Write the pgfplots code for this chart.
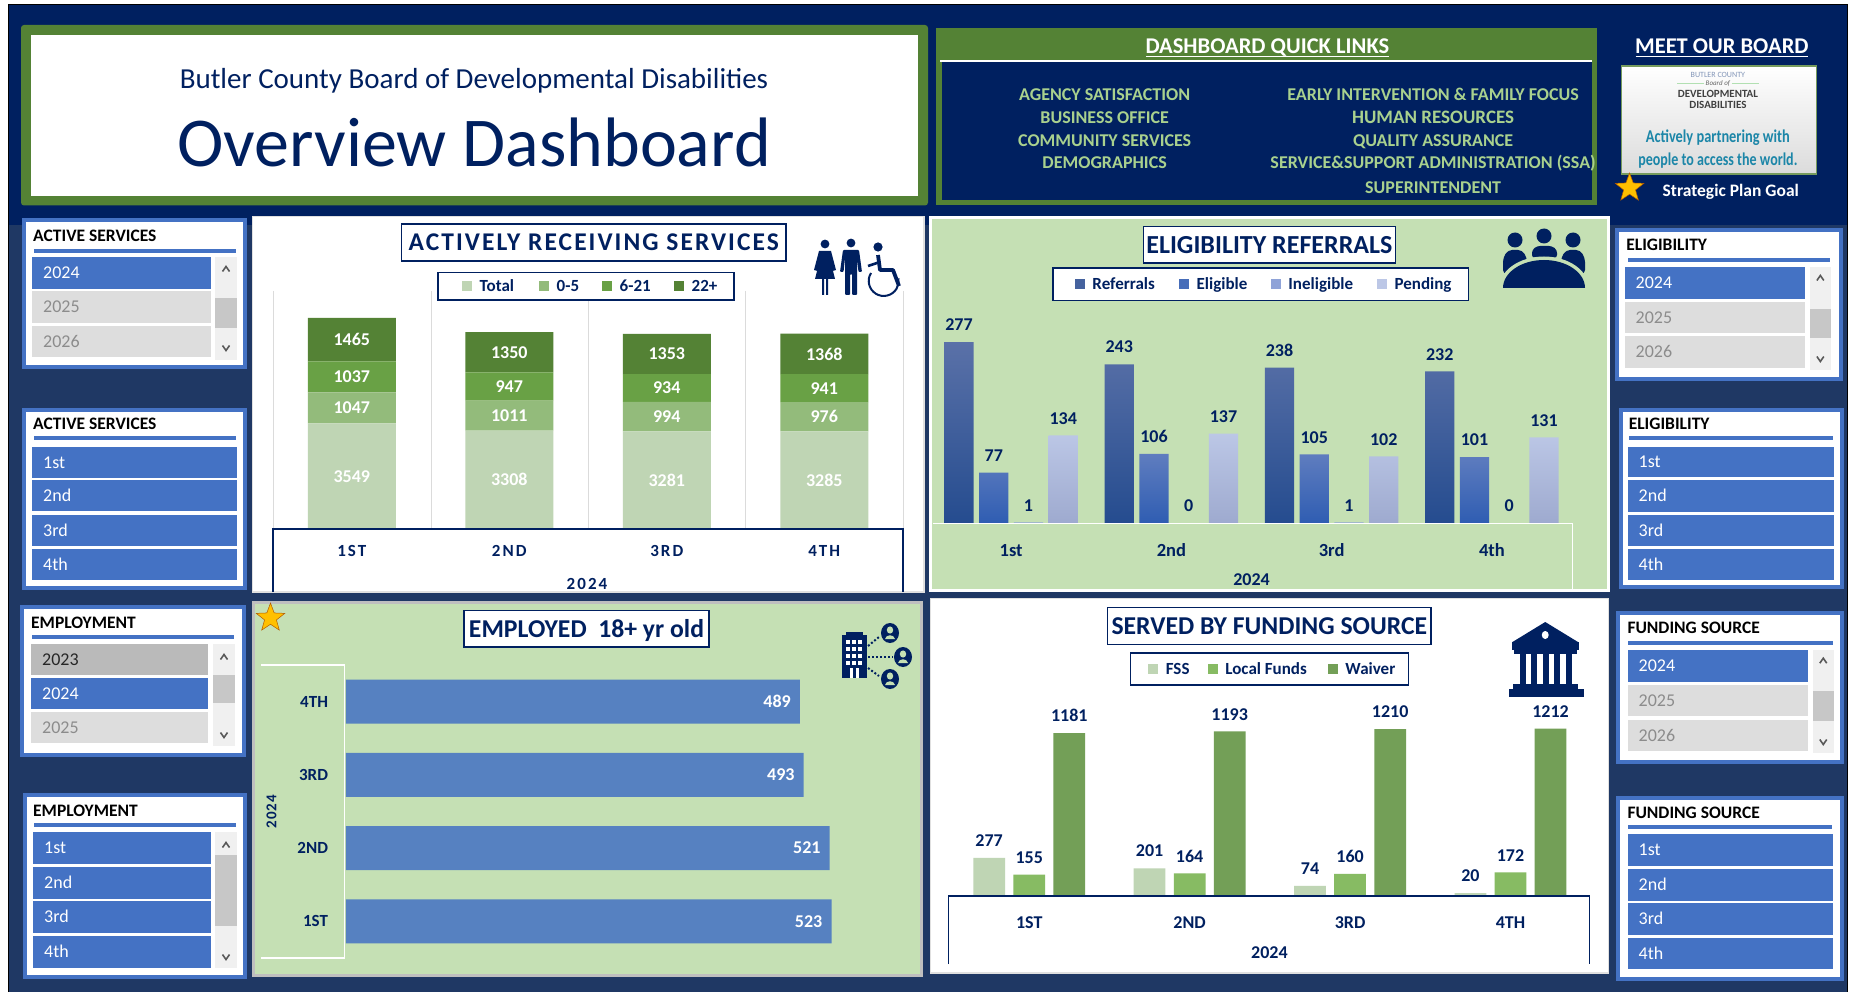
\documentclass[border=0pt]{standalone}
\usepackage{fontspec}
\setmainfont{Carlito}
\usepackage{pgfplots}
\usepackage{pgfplotstable}
\pgfplotsset{compat=1.18}
\usetikzlibrary{shapes.geometric}
\definecolor{navy}{HTML}{002060}
\definecolor{navyb}{HTML}{1F3864}
\definecolor{dgreen}{HTML}{548235}
\definecolor{panelg}{HTML}{C5E0B4}
\definecolor{sblue}{HTML}{4472C4}
\definecolor{sgrey}{HTML}{DDDDDD}
\definecolor{linkg}{HTML}{A9D18E}
\definecolor{gA}{HTML}{BFD5B4}
\definecolor{gB}{HTML}{93BB7B}
\definecolor{gC}{HTML}{69A145}
\definecolor{gD}{HTML}{548235}
\definecolor{lA}{HTML}{BFD5B4}
\definecolor{lB}{HTML}{87BB63}
\definecolor{lC}{HTML}{739F57}
\definecolor{barB}{HTML}{5681C1}
\definecolor{rT}{HTML}{5A71A8}\definecolor{rB}{HTML}{254C8F}
\definecolor{eT}{HTML}{5F7DBF}\definecolor{eB}{HTML}{2F5DB2}
\definecolor{iT}{HTML}{8FA3D8}\definecolor{iB}{HTML}{7F95D0}
\definecolor{pT}{HTML}{BCC7E6}\definecolor{pB}{HTML}{9EAACF}
\definecolor{teal1}{HTML}{1C86A8}
\definecolor{star1}{HTML}{FFC000}
\pgfplotstableread{
q tot a b c
0 3549 1047 1037 1465
1 3308 1011 947 1350
2 3281 994 934 1353
3 3285 976 941 1368
}\tabServ
\pgfplotstableread{
q ref eli ine pen
0 277 77 1 134
1 243 106 0 137
2 238 105 1 102
3 232 101 0 131
}\tabElig
\pgfplotstableread{
q emp
0 523
1 521
2 493
3 489
}\tabEmp
\pgfplotstableread{
q fss loc wai
0 277 155 1181
1 201 164 1193
2 74 160 1210
3 20 172 1212
}\tabFund
\newcommand{\ft}[1]{\fontsize{#1}{#1}\selectfont}
\newcommand{\capbox}[1]{\raisebox{0pt}[\fontcharht\font`H][0pt]{#1}}
\newcommand{\R}[5]{\fill[#5] ({#1},{#2}) rectangle ({#3},{#4});}
\newcommand{\T}[5]{\node[anchor=#3,inner sep=0pt] at ({#1},{#2}) {#4\capbox{#5}};}
% slicer frame: x1 y1 x2 y2 headx heady title
\newcommand{\Sl}[7]{\R{#1}{#2}{#3}{#4}{sblue}\fill[white] ({#1+4},{#2+4}) rectangle ({#3-4},{#4-4});
 \T{#5}{#6}{west}{\ft{17.5}\bfseries\color{black}}{#7}}
\newcommand{\Ln}[3]{\fill[sblue] ({#1},{#3-1.7}) rectangle ({#2},{#3+1.7});}
\newcommand{\It}[7]{\R{#1}{#2}{#3}{#4}{#6}\T{#1+11}{(#2+#4)/2}{west}{\ft{18}\color{#7}}{#5}}
\newcommand{\Scr}[8]{\R{#1}{#2}{#3}{#4}{black!6}\R{#1}{#5}{#3}{#6}{black!22}
 \draw[line width=1.6pt,black!65] ({(#1+#3)/2-3.5},{#7+2.5}) -- ({(#1+#3)/2},{#7-2.5}) -- ({(#1+#3)/2+3.5},{#7+2.5});
 \draw[line width=1.6pt,black!65] ({(#1+#3)/2-3.5},{#8-2.5}) -- ({(#1+#3)/2},{#8+2.5}) -- ({(#1+#3)/2+3.5},{#8-2.5});}
\newcommand{\TB}[6]{\filldraw[fill=white,draw=navy,line width=1.4pt] (#1,#2) rectangle (#3,#4);\node[inner sep=0pt] at ({(#1+#3)/2},{(#2+#4)/2}) {\color{navy}\bfseries #5\capbox{#6}};}
\newcommand{\Lg}[4]{\R{#1}{#2-5}{#1+10}{#2+5}{#3}\T{#1+17.5}{#2}{west}{\ft{17}\bfseries\color{navy}}{#4}}
\tikzset{LH/.style={x=1pt,y=-1pt},RH/.style={x=0.9923pt,y=-1pt,xshift=7.16pt},
 gold/.style={star,star points=5,star point ratio=2.4,fill=star1,draw=orange!70!black,line width=0.5pt,inner sep=0pt,minimum size=30pt}}
\pgfplotsset{dash/.style={
  scale only axis, axis line style={draw=none}, tick style={draw=none},
  clip=false, xmin=-0.5, xmax=3.5, ymin=0, xtick={0,1,2,3}, ytick=\empty,
  xticklabel style={anchor=center,text=navy,font=\ft{17}\bfseries},
  nodes near coords={\pgfplotspointmeta}, point meta=explicit symbolic}}
\begin{document}
\begin{tikzpicture}
\begin{scope}[LH]
\path[use as bounding box] (0,0) rectangle (1855,992);
\fill[white] (0,0) rectangle (1855,992);
\R{8}{5}{1847}{992}{navyb}
\R{8}{5}{1847}{225}{navy}
\draw[black,line width=1pt] (8,992) -- (8,5) -- (1847.5,5) -- (1847.5,992);
% title
\fill[dgreen,rounded corners=3pt] (21,25) rectangle (928,205.5);
\R{31}{35}{918}{196}{white}
\T{474}{79}{center}{\ft{29}\color{navy}}{Butler County Board of Developmental Disabilities}
\T{474}{144}{center}{\ft{70}\color{navy}}{Overview Dashboard}
% ---- slicers left
\Sl{22}{218}{247}{369}{33}{236}{ACTIVE SERVICES}\Ln{34}{236}{251}
\It{32}{257}{211}{289}{2024}{sblue}{white}
\It{32}{291}{211}{323}{2025}{sgrey}{black!45}
\It{32}{326}{211}{357}{2026}{sgrey}{black!45}
\Scr{215}{257}{237}{360}{298.5}{328}{269}{348}
\Sl{22}{408}{247}{590}{33}{424}{ACTIVE SERVICES}\Ln{34}{236}{438}
\It{32}{447}{237}{478}{1st}{sblue}{white}
\It{32}{480}{237}{511}{2nd}{sblue}{white}
\It{32}{515}{237}{546}{3rd}{sblue}{white}
\It{32}{549}{237}{580}{4th}{sblue}{white}
\Sl{20}{605}{246}{757}{31}{622.7}{EMPLOYMENT}\Ln{32}{234}{637}
\It{31}{644}{208}{675}{2023}{black!27}{black!85}
\It{31}{678}{208}{709}{2024}{sblue}{white}
\It{31}{712}{208}{743}{2025}{sgrey}{black!45}
\Scr{213}{644}{235}{746}{675}{703}{657}{735}
\Sl{22.5}{793}{247}{979}{33}{810.7}{EMPLOYMENT}\Ln{34}{236}{825}
\It{33}{832}{211}{864}{1st}{sblue}{white}
\It{33}{867}{211}{899}{2nd}{sblue}{white}
\It{33}{901}{211}{933}{3rd}{sblue}{white}
\It{33}{936}{211}{968}{4th}{sblue}{white}
\Scr{215}{832}{237}{968}{855}{926}{845}{957}
% ---- left panels
\filldraw[fill=white,draw=black!12,line width=1.5pt] (252.5,216.5) rectangle (924,592);
\foreach \g in {273,431,588,745.5,903} {\draw[black!14,line width=0.8pt] (\g,291) -- (\g,529);}
\filldraw[fill=panelg,draw=black!25,line width=3pt] (253.5,602) rectangle (921.5,975.5);
\end{scope}

\begin{scope}[RH]
% quick links
\R{936}{28}{1602}{205.5}{dgreen}
\R{942}{62}{1597}{200}{navy}
\fill[white] (940,60) rectangle (1597,62);
\T{1270}{46}{center}{\ft{22.5}\bfseries\color{white}}{DASHBOARD QUICK LINKS}
\draw[white,line width=1.4pt] (1147.6,56.5) -- (1392.5,56.5);
\T{1106}{94.5}{center}{\ft{18}\bfseries\color{linkg}}{AGENCY SATISFACTION}
\T{1106}{117.5}{center}{\ft{18}\bfseries\color{linkg}}{BUSINESS OFFICE}
\T{1106}{140.5}{center}{\ft{18}\bfseries\color{linkg}}{COMMUNITY SERVICES}
\T{1106}{162.6}{center}{\ft{18}\bfseries\color{linkg}}{DEMOGRAPHICS}
\T{1437}{94.5}{center}{\ft{18}\bfseries\color{linkg}}{EARLY INTERVENTION \& FAMILY FOCUS}
\T{1437}{117}{center}{\ft{19}\bfseries\color{linkg}}{HUMAN RESOURCES}
\T{1437}{140.5}{center}{\ft{18}\bfseries\color{linkg}}{QUALITY ASSURANCE}
\T{1437}{162.6}{center}{\ft{18}\bfseries\color{linkg}}{SERVICE\&SUPPORT ADMINISTRATION (SSA)}
\T{1437}{187.5}{center}{\ft{18}\bfseries\color{linkg}}{SUPERINTENDENT}
% board
\T{1728}{46}{center}{\ft{22.5}\bfseries\color{white}}{MEET OUR BOARD}
\draw[white,line width=1.4pt] (1641,56.5) -- (1814.7,56.5);
\shade[top color=white,bottom color=black!14] (1627,66) rectangle (1823.6,174);
\draw[dgreen!80,line width=1.4pt] (1627,66) rectangle (1823.6,174);
\T{1724}{75}{center}{\ft{8}\color{sblue!70!black!60}}{BUTLER COUNTY}
\T{1724}{83.4}{center}{\ft{7}\itshape\color{black!60}}{Board of}
\draw[black!40!green!30,line width=0.6pt] (1683,83.4) -- (1710,83.4) (1738,83.4) -- (1765,83.4);
\T{1724}{94}{center}{\ft{11}\bfseries\color{black!75}}{DEVELOPMENTAL}
\T{1724}{105}{center}{\ft{11}\bfseries\color{black!75}}{DISABILITIES}
\T{1724}{137}{center}{\ft{18}\bfseries\addfontfeatures{FakeStretch=0.8}\color{teal1}}{Actively partnering with}
\T{1724}{160}{center}{\ft{18}\bfseries\addfontfeatures{FakeStretch=0.78}\color{teal1}}{people to access the world.}
\node[gold] at (1635,188) {};
\T{1737}{190.6}{center}{\ft{17.5}\bfseries\color{white}}{Strategic Plan Goal}
% ---- slicers right
\Sl{1620}{228.5}{1850}{381}{1631.5}{245}{ELIGIBILITY}\Ln{1633}{1837}{260}
\It{1630}{267}{1812}{299}{2024}{sblue}{white}
\It{1630}{302}{1812}{333}{2025}{sgrey}{black!45}
\It{1630}{336}{1812}{367.5}{2026}{sgrey}{black!45}
\Scr{1816.5}{267}{1838}{370}{309}{337.5}{278}{359}
\Sl{1624}{408}{1851}{589}{1634}{424}{ELIGIBILITY}\Ln{1634}{1840}{438}
\It{1633}{447}{1841}{477}{1st}{sblue}{white}
\It{1633}{480}{1841}{512}{2nd}{sblue}{white}
\It{1633}{515}{1841}{546}{3rd}{sblue}{white}
\It{1633}{549}{1841}{580}{4th}{sblue}{white}
\Sl{1621.4}{610.7}{1851.5}{763.7}{1632.7}{627.7}{FUNDING SOURCE}\Ln{1633}{1840}{643}
\It{1633}{650}{1814.7}{682}{2024}{sblue}{white}
\It{1633}{685}{1814.7}{716}{2025}{sgrey}{black!45}
\It{1633}{720}{1814.7}{751}{2026}{sgrey}{black!45}
\Scr{1819.4}{650}{1841}{752.7}{691}{720.7}{660.7}{742}
\Sl{1621.4}{795.7}{1851}{980.7}{1632.7}{812.7}{FUNDING SOURCE}\Ln{1633}{1839}{827}
\It{1633}{834}{1840}{866}{1st}{sblue}{white}
\It{1633}{869}{1840}{901}{2nd}{sblue}{white}
\It{1633}{903}{1840}{935}{3rd}{sblue}{white}
\It{1633}{938}{1840}{969}{4th}{sblue}{white}
% ---- right panels
\filldraw[fill=panelg,draw=white,line width=3pt] (931,217.5) rectangle (1613.5,590.5);
\filldraw[fill=white,draw=black!12,line width=1.5pt] (930.5,598.5) rectangle (1614,973);
\end{scope}

% ---- Chart 1: stacked columns
\begin{axis}[dash, at={(273pt,-529pt)}, anchor=south west, width=630pt, height=238pt,
  ymax=8000, ybar stacked, bar width=88pt,
  xticklabels={1ST,2ND,3RD,4TH},
  xticklabel style={yshift=-22pt,font=\ft{17}\bfseries\addfontfeatures{LetterSpace=12}},
  every node near coord/.append style={anchor=center,text=white,font=\ft{18}\bfseries,inner sep=0pt,yshift=-0.5*\segv*0.02975}]
\addplot[fill=gA,draw=none,visualization depends on={\thisrow{tot} \as \segv}] table[x=q,y=tot,meta=tot] {\tabServ};
\addplot[fill=gB,draw=none,visualization depends on={\thisrow{a} \as \segv}] table[x=q,y=a,meta=a] {\tabServ};
\addplot[fill=gC,draw=none,visualization depends on={\thisrow{b} \as \segv}] table[x=q,y=b,meta=b] {\tabServ};
\addplot[fill=gD,draw=none,visualization depends on={\thisrow{c} \as \segv}] table[x=q,y=c,meta=c] {\tabServ};
\end{axis}

% ---- Chart 2: clustered columns
\begin{axis}[dash, at={(931pt,-523pt)}, anchor=south west, width=641pt, height=209pt,
  ymax=320, ybar=5.65pt, bar width=29.1pt,
  xticklabels={1st,2nd,3rd,4th}, xticklabel style={yshift=-23pt,font=\ft{18.5}\bfseries},
  every node near coord/.append style={text=navy,font=\ft{18}\bfseries,inner sep=2pt,yshift=9pt}]
\addplot[draw=none,top color=rT,bottom color=rB] table[x=q,y=ref,meta=ref] {\tabElig};
\addplot[draw=none,top color=eT,bottom color=eB] table[x=q,y=eli,meta=eli] {\tabElig};
\addplot[draw=none,fill=iT] table[x=q,y=ine,meta=ine] {\tabElig};
\addplot[draw=none,top color=pT,bottom color=pB] table[x=q,y=pen,meta=pen] {\tabElig};
\end{axis}

% ---- Chart 3: horizontal bars
\begin{axis}[dash, at={(345.8pt,-958pt)}, anchor=south west, width=554.2pt, height=293pt,
  xmin=0, xmax=596.7, ymin=-0.5, ymax=3.5, xtick=\empty, ytick={0,1,2,3},
  yticklabels={1ST,2ND,3RD,4TH},
  yticklabel style={anchor=east,xshift=-10pt,text=navy,font=\ft{17}\bfseries},
  xbar, bar width=44pt,
  every node near coord/.append style={anchor=east,text=white,font=\ft{18}\bfseries,inner sep=0pt,xshift=-9pt}]
\addplot[fill=barB,draw=none] table[x=emp,y=q,meta=emp] {\tabEmp};
\end{axis}

% ---- Chart 4: clustered columns
\begin{axis}[dash, at={(949pt,-896pt)}, anchor=south west, width=641.7pt, height=172.5pt,
  ymax=1250, ybar=8.3pt, bar width=31.75pt,
  xticklabels={1ST,2ND,3RD,4TH}, xticklabel style={yshift=-22.7pt,font=\ft{18}\bfseries},
  every node near coord/.append style={text=navy,font=\ft{18}\bfseries,inner sep=2pt,yshift=9pt}]
\addplot[fill=lA,draw=none] table[x=q,y=fss,meta=fss] {\tabFund};
\addplot[fill=lB,draw=none] table[x=q,y=loc,meta=loc] {\tabFund};
\addplot[fill=lC,draw=none] table[x=q,y=wai,meta=wai] {\tabFund};
\end{axis}

\begin{scope}[LH]
% ---- chart 1 overlay
\TB{401.5}{224}{786}{261}{\ft{25.5}\addfontfeatures{LetterSpace=8}}{ACTIVELY RECEIVING SERVICES}
\filldraw[fill=white,draw=navy,line width=1.2pt] (438,272.5) rectangle (734,300);
\Lg{462}{286}{gA}{Total}\Lg{539}{286}{gB}{0-5}\Lg{602}{286}{gC}{6-21}\Lg{674}{286}{gD}{22+}
\draw[navy,line width=1.2pt] (273,592) -- (273,529) -- (903,529) -- (903,592);
\T{587}{584}{center}{\ft{17}\bfseries\color{navy}\addfontfeatures{LetterSpace=12}}{2024}
% people icon
\fill[navy] (825,244) circle (4.4);
\fill[navy] (819,251) -- (831,251) -- (836,270) -- (832.5,271) -- (830,259) -- (835,279) -- (828,279) -- (828,295) -- (826,295) -- (826,279) -- (824,279) -- (824,295) -- (822,295) -- (822,279) -- (815,279) -- (820,259) -- (817.5,271) -- (814,270) -- cycle;
\fill[navy] (851,243) circle (4.4);
\fill[navy,rounded corners=1pt] (843,250) -- (859,250) -- (862,272) -- (858.5,272) -- (857,258) -- (857,295) -- (852,295) -- (852,274) -- (850,274) -- (850,295) -- (845,295) -- (845,258) -- (843.5,272) -- (840,272) -- cycle;
\fill[navy] (878,247) circle (4.6);
\draw[navy,line width=3.8pt,line join=round] (878,255) -- (880,270) -- (893,270) -- (899,286);
\draw[navy,line width=2.6pt] (880,262) -- (868,266);
\draw[navy,line width=2pt] (871,273) arc[start angle=212,end angle=-10,radius=15];
% ---- meeting icon (true pixels)
\fill[navy] (1515,240) circle (7.5) (1544,236) circle (7.5) (1573,240) circle (7.5);
\fill[navy,rounded corners=4pt] (1503,274) -- (1503,258) -- (1508,250) -- (1522,250) -- (1527,258) -- (1527,274) -- cycle;
\fill[navy,rounded corners=4pt] (1561,274) -- (1561,258) -- (1566,250) -- (1580,250) -- (1585,258) -- (1585,274) -- cycle;
\fill[navy,rounded corners=3pt] (1532,258) -- (1532,250) -- (1537,246) -- (1552,246) -- (1557,250) -- (1557,258) -- cycle;
\fill[panelg] (1499,288.5) arc[start angle=180,end angle=360,x radius=45,y radius=32] -- cycle;
\fill[navy] (1503,288) arc[start angle=180,end angle=360,x radius=41,y radius=28] -- cycle;
% ---- chart 3 overlay
\node[gold] at (270.5,618) {};
\TB{464}{610.7}{709}{647}{\ft{25.7}}{EMPLOYED\ \ 18+ yr old}
\draw[white,line width=1.6pt] (261,665) -- (344.6,665) -- (344.6,957.7) -- (261,957.7);
\node[rotate=90,inner sep=0pt] at (271.6,811.7) {\ft{15}\bfseries\color{navy}\addfontfeatures{LetterSpace=8}2024};
% employee icon
\R{842}{635}{867}{678}{navy}\R{846}{632}{863}{636}{navy}
\foreach \cx in {846,852,858} {\foreach \cy in {640,647,654,661} {\fill[white] (\cx,\cy) rectangle ++(3.6,3.6);}}
\fill[white] (850,668) rectangle ++(3,10);\fill[white] (856,668) rectangle ++(3,10);
\foreach \px/\py in {890/633,903/657,890/679} {
 \fill[navy] (\px,\py) ellipse (9 and 10);
 \fill[panelg] ({\px},{\py-3}) ellipse (3.2 and 3.6);
 \fill[panelg] ({\px-5},{\py+6}) .. controls ({\px-4},{\py+1}) and ({\px+4},{\py+1}) .. ({\px+5},{\py+6}) -- cycle;}
\draw[navy,line width=2pt,dotted] (868,646) -- (879,637);
\draw[navy,line width=2pt,dotted] (868,657) -- (893,657);
\draw[navy,line width=2pt,dotted] (868,668) -- (879,676);
\end{scope}

\begin{scope}[RH]
% ---- chart 2 overlay
\TB{1145}{226.5}{1399}{263}{\ft{26}}{ELIGIBILITY REFERRALS}
\filldraw[fill=white,draw=navy,line width=1.2pt] (1054,268) rectangle (1473,300.4);
\Lg{1076}{283.6}{rT!60!rB}{Referrals}\Lg{1181}{283.6}{eT!50!eB}{Eligible}\Lg{1273.5}{283.6}{iT}{Ineligible}\Lg{1380.5}{283.6}{pT}{Pending}
\draw[white,line width=1pt] (933,523) -- (1577,523) -- (1577,589);
\T{1254}{580}{center}{\ft{18}\bfseries\color{navy}}{2024}
% ---- chart 4 overlay
\TB{1109}{607.7}{1435}{644.3}{\ft{25.7}}{SERVED BY FUNDING SOURCE}
\filldraw[fill=white,draw=navy,line width=1.2pt] (1132,653) rectangle (1412,685);
\Lg{1150}{668.7}{lA}{FSS}\Lg{1210}{668.7}{lB}{Local Funds}\Lg{1331}{668.7}{lC}{Waiver}
\draw[navy,line width=1.2pt] (949,964) -- (949,896) -- (1595,896) -- (1595,964);
\T{1272}{952.7}{center}{\ft{18}\bfseries\color{navy}}{2024}
% bank icon
\fill[navy] (1550,622) -- (1583,642) -- (1517,642) -- cycle;
\fill[navy] (1517,642) rectangle (1584,650);
\fill[white] (1550,635) ellipse (3.5 and 4);
\R{1519}{650}{1582}{654}{navy}
\foreach \cx in {1525,1536,1548,1559,1571} {\R{\cx}{654}{\cx+5.5}{684}{navy}}
\R{1518}{684}{1583}{689}{navy}
\R{1513}{689}{1589}{697}{navy}
\end{scope}
\end{tikzpicture}
\end{document}
